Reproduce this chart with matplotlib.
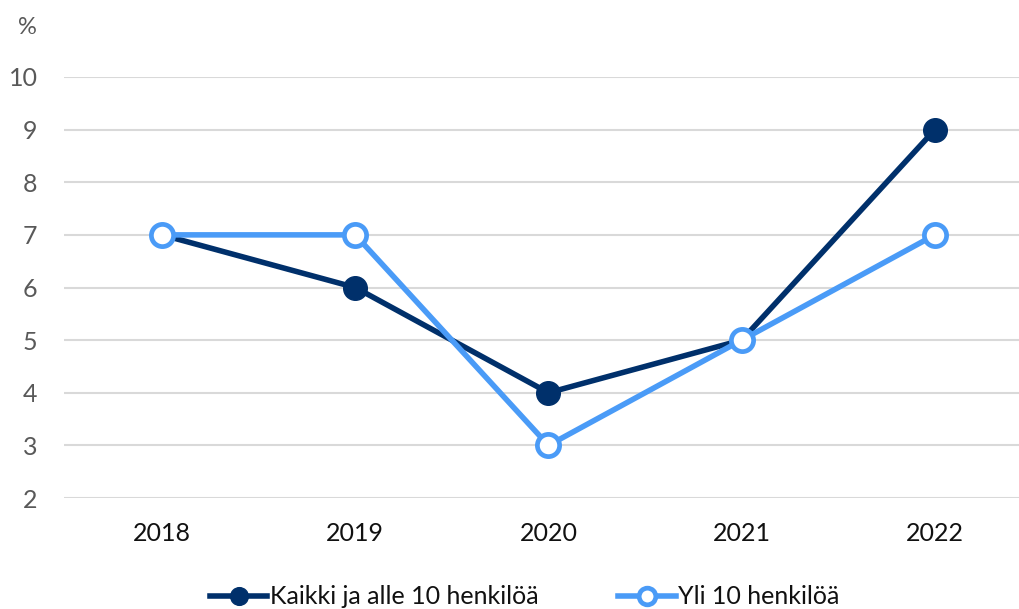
import matplotlib
matplotlib.use("Agg")
import matplotlib.pyplot as plt
import numpy as np

years = ["2018", "2019", "2020", "2021", "2022"]
kaikki = [7, 6, 4, 5, 9]
yli10 = [7, 7, 3, 5, 7]
yticks = [2, 3, 4, 5, 6, 7, 8, 9, 10]
label_kaikki = "Kaikki ja alle 10 henkilöä"
label_yli = "Yli 10 henkilöä"

plt.rcParams['font.family'] = ['Lato', 'DejaVu Sans']

fig = plt.figure(figsize=(10.19, 6.09), dpi=100)
ax = fig.add_axes([64/1019, 111/609, 1 - 64/1019, (498-77)/609])

x = np.arange(len(years))
dark = "#00306B"
light = "#4A9BF7"

ax.plot(x, kaikki, color=dark, lw=4, marker='o', ms=17, mfc=dark, mec=dark,
        label=label_kaikki, clip_on=False, zorder=3)
ax.plot(x, yli10, color=light, lw=4, marker='o', ms=16, mfc='white', mec=light, mew=3.4,
        label=label_yli, clip_on=False, zorder=4)

ax.set_ylim(2, 10)
ax.set_xlim(-0.507, 4.435)
ax.set_yticks(yticks)
ax.set_xticks(x)
ax.set_xticklabels(years)
ax.grid(axis='y', color='#d9d9d9', lw=1.5)
ax.set_axisbelow(True)
for s in ax.spines.values():
    s.set_visible(False)
ax.tick_params(axis='y', length=0, pad=19, labelsize=18, labelcolor='#595959')
ax.tick_params(axis='x', length=0, pad=17, labelsize=18, labelcolor='#111111')

fig.text(27/1019, 1 - 27/609, "%", fontsize=17, color='#595959', ha='center', va='center')

leg = fig.legend(loc='center', bbox_to_anchor=(0.515, 1 - 597/609), ncol=2, frameon=False,
                 fontsize=18, handlelength=2.3, handletextpad=0.1, columnspacing=3.2,
                 markerscale=0.75)
for t in leg.get_texts():
    t.set_color('#111111')

fig.savefig("out.png", dpi=100)
